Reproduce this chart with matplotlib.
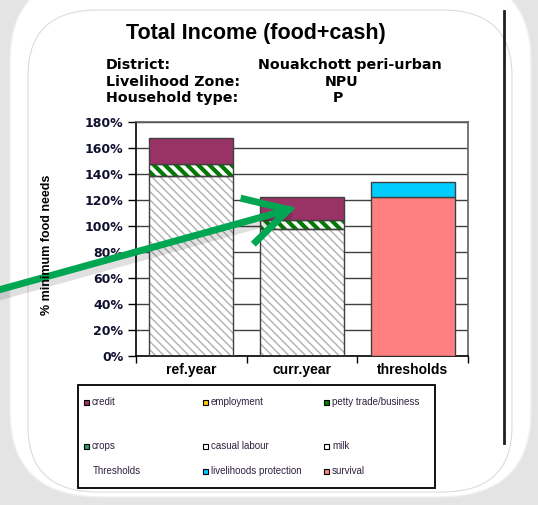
import numpy as np
import matplotlib
matplotlib.use('Agg')
import matplotlib.pyplot as plt
from matplotlib.patches import Rectangle, FancyBboxPatch, FancyArrowPatch

# データ
categories = ['ref.year', 'curr.year', 'thresholds']
casual_labour = [138.5, 98.0, 0.0]
petty_trade = [9.0, 7.0, 0.0]
credit = [20.5, 17.0, 0.0]
survival = [0.0, 0.0, 122.5]
livelihoods_protection = [0.0, 0.0, 11.5]

yticks = [0, 20, 40, 60, 80, 100, 120, 140, 160, 180]

legend_rows = [
    ['credit', 'employment', 'petty trade/business'],
    ['crops', 'casual labour', 'milk'],
    ['Thresholds', 'livelihoods protection', 'survival'],
]
legend_colors = [
    ['#993366', '#FFCC00', '#008000'],
    ['#339966', '#FFFFFF', '#FFFFFF'],
    [None, '#00CCFF', '#FF8080'],
]

info_labels = ['District:', 'Livelihood Zone:', 'Household type:']
info_values = ['Nouakchott peri-urban', 'NPU', 'P']

W, H = 538, 505
FONT = ['Liberation Sans', 'DejaVu Sans']
plt.rcParams['font.family'] = FONT


def px(x, y):
    # ピクセル座標 -> figure座標
    return x / W, 1 - y / H


fig = plt.figure(figsize=(W / 100, H / 100), dpi=100)
fig.patch.set_facecolor('#e4e4e4')

# 背景のカード
card = FancyBboxPatch(px(10, 497), 521 / W, 522 / H,
                      boxstyle='round,pad=0,rounding_size=0.17',
                      transform=fig.transFigure, facecolor='white',
                      edgecolor='#f0f0f0', lw=1, zorder=0)
fig.add_artist(card)
inner = FancyBboxPatch(px(28, 492), 484 / W, 482 / H,
                       boxstyle='round,pad=0,rounding_size=0.13',
                       transform=fig.transFigure, facecolor='white',
                       edgecolor='#dcdcdc', lw=0.8, zorder=0)
fig.add_artist(inner)
fig.add_artist(plt.Line2D([504 / W, 504 / W], [1 - 11 / H, 1 - 443 / H],
                          transform=fig.transFigure, color='#202020', lw=2))

# タイトル・情報
fig.text(*px(256, 33), 'Total Income (food+cash)', ha='center', va='center',
         fontsize=15.5, fontweight='bold')
info_x = [325, 333]
for i, (lab, val) in enumerate(zip(info_labels, info_values)):
    y = 65 + i * 16.5
    fig.text(*px(106, y), lab, ha='left', va='center', fontsize=10.3,
             fontweight='bold', family='DejaVu Sans')
    vx = 258 if i == 0 else info_x[i - 1]
    fig.text(*px(vx, y), val, ha='left', va='center', fontsize=10.3,
             fontweight='bold', family='DejaVu Sans')

# グラフ
ax = fig.add_axes([136 / W, 1 - 356 / H, 332 / W, 234 / H])
ax.set_facecolor('white')
x = np.arange(len(categories))
w = 0.76

ax.set_axisbelow(True)
ax.yaxis.grid(True, color='#404040', lw=1)

b1 = np.array(casual_labour)
b2 = b1 + np.array(petty_trade)
ax.bar(x, casual_labour, w, color='white', edgecolor='#b0b0b0',
       hatch='\\\\\\\\', lw=0, zorder=2)
green = ax.bar(x, petty_trade, w, bottom=b1, color='white', edgecolor='#007a00',
               hatch='\\\\\\', lw=0, zorder=2)
for p in green:
    if hasattr(p, 'set_hatch_linewidth'):
        p.set_hatch_linewidth(3)
ax.bar(x, casual_labour, w, color='none', edgecolor='#404040', lw=1, zorder=3)
ax.bar(x, petty_trade, w, bottom=b1, color='none', edgecolor='#404040', lw=1,
       zorder=3)
ax.bar(x, credit, w, bottom=b2, color='#993366', edgecolor='#404040', lw=1,
       zorder=3)
ax.bar(x, survival, w, color='#FF8080', edgecolor='#404040', lw=1, zorder=3)
ax.bar(x, livelihoods_protection, w, bottom=survival, color='#00CCFF',
       edgecolor='#404040', lw=1, zorder=3)

ax.set_xlim(-0.5, 2.5)
ax.set_ylim(0, 180)
ax.set_yticks(yticks)
ax.set_yticklabels(['%d%%' % v for v in yticks], fontsize=9,
                   fontweight='bold', color='#101030', family='DejaVu Sans')
ax.tick_params(axis='y', length=6, width=1, pad=3)
ax.set_xticks(x)
ax.set_xticklabels(categories, fontsize=10, fontweight='bold')
ax.tick_params(axis='x', length=0, pad=5)
ax.set_xticks([-0.5, 0.5, 1.5, 2.5], minor=True)
ax.tick_params(axis='x', which='minor', length=5, width=1)
for s in ['left', 'bottom']:
    ax.spines[s].set_color('black')
    ax.spines[s].set_linewidth(1.2)
for s in ['top', 'right']:
    ax.spines[s].set_color('#606060')
    ax.spines[s].set_linewidth(1.2)

fig.text(*px(47, 245), '% minimum food needs', rotation=90, ha='center',
         va='center', fontsize=9, fontweight='bold',
         family=['Liberation Sans Narrow', 'Liberation Sans', 'DejaVu Sans'])

# 凡例
fig.add_artist(Rectangle(px(78, 488), 357 / W, 103 / H,
                         transform=fig.transFigure, facecolor='white',
                         edgecolor='black', lw=1.3))
row_y = [402, 446, 471]
col_x = [86, 205, 326]
for r, (labels, colors) in enumerate(zip(legend_rows, legend_colors)):
    for c, (lab, col) in enumerate(zip(labels, colors)):
        mx, my = col_x[c], row_y[r]
        if col is not None:
            fig.add_artist(Rectangle(px(mx - 2.5, my + 2.5), 5 / W, 5 / H,
                                     transform=fig.transFigure, facecolor=col,
                                     edgecolor='black', lw=0.8))
            tx = mx + 6
        else:
            tx = mx + 7
        fig.text(*px(tx, my), lab, ha='left', va='center', fontsize=7,
                 color='#302040')

# 矢印
arr_shadow = FancyArrowPatch(px(-5, 296), px(290, 214),
                             transform=fig.transFigure, arrowstyle='-',
                             color='#000000', alpha=0.12, lw=8)
arrow = FancyArrowPatch(px(-5, 291), px(298, 207), transform=fig.transFigure,
                        arrowstyle='->,head_length=0.9,head_width=0.5',
                        mutation_scale=32, color='#00A651', lw=5,
                        capstyle='projecting', joinstyle='miter')
fig.add_artist(arr_shadow)
fig.add_artist(arrow)

plt.savefig('out.png', dpi=100)
plt.close()
